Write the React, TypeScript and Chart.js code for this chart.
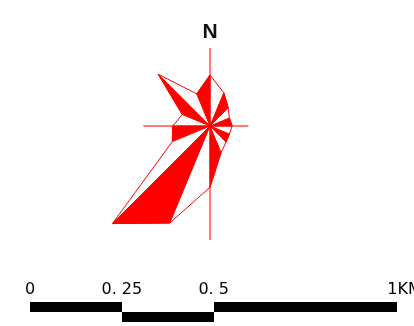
import React, { useEffect, useRef } from 'react';
import { Chart, registerables } from 'chart.js';

Chart.register(...registerables);

// 16 wind directions, clockwise from north
const directions = ['N', 'NNE', 'NE', 'ENE', 'E', 'ESE', 'SE', 'SSE', 'S', 'SSW', 'SW', 'WSW', 'W', 'WNW', 'NW', 'NNW'];
// wind frequency (%) per direction
const frequency = [8.5, 6.0, 4.3, 3.5, 3.7, 3.5, 3.8, 4.8, 10.2, 17.5, 23.0, 6.8, 6.2, 5.0, 12.2, 5.8];
// sectors (pairs of neighbouring directions) that are filled solid
const filledPairs = [[15, 0], [1, 2], [3, 4], [5, 6], [7, 8], [9, 10], [11, 12], [13, 14]];
// reach of the N / E / S / W cross lines
const crossLength = [13, 0, 0, 0, 6.4, 0, 0, 0, 19, 0, 0, 0, 11.1, 0, 0, 0];
const radialMax = 20;

// map scale bar
const scaleStops = [0, 0.25, 0.5, 1];
const scaleLabels = ['0', '0. 25', '0. 5', '1KM'];
const northLabel = 'N';

const RED = '#ff0000';

function WindRose() {
  const ref = useRef<HTMLCanvasElement | null>(null);
  useEffect(() => {
    if (!ref.current) return;
    const sectorSets = filledPairs.map((pair) => ({
      data: directions.map((_, i) => (pair.includes(i) ? frequency[i] : 0)),
      borderColor: RED,
      backgroundColor: RED,
      borderWidth: 1,
      fill: 'origin' as const,
      pointRadius: 0,
    }));
    const chart = new Chart(ref.current, {
      type: 'radar',
      data: {
        labels: directions,
        datasets: [
          {
            data: frequency,
            borderColor: RED,
            backgroundColor: 'rgba(0,0,0,0)',
            borderWidth: 1,
            fill: false,
            pointRadius: 0,
          },
          ...sectorSets,
          {
            data: crossLength,
            borderColor: 'rgba(255,40,40,0.75)',
            backgroundColor: 'rgba(0,0,0,0)',
            borderWidth: 1,
            fill: false,
            pointRadius: 0,
          },
        ],
      },
      options: {
        animation: false,
        responsive: false,
        events: [],
        layout: { padding: { left: 90, right: 84, top: 6, bottom: 80 } },
        elements: { line: { tension: 0 }, point: { radius: 0 } },
        plugins: { legend: { display: false }, tooltip: { enabled: false } },
        scales: {
          r: {
            min: 0,
            max: radialMax,
            startAngle: 0,
            ticks: { display: false },
            grid: { display: false },
            angleLines: { display: false },
            pointLabels: { display: false },
          },
        },
      },
    });
    return () => chart.destroy();
  }, []);
  return <canvas ref={ref} width={414} height={326} style={{ position: 'absolute', left: 0, top: 0, display: 'block' }} />;
}

export default function App() {
  const barLeft = 30;
  const barWidth = 367.3;
  const labelFont = '16px "DejaVu Sans", sans-serif';
  return (
    <div style={{ position: 'fixed', left: 0, top: 0, width: 414, height: 326, overflow: 'hidden', background: '#fff' }}>
      <WindRose />
      <div
        style={{
          position: 'absolute',
          left: 210,
          top: 20,
          transform: 'translateX(-50%)',
          font: 'bold 21px "Liberation Sans", Arial, sans-serif',
          lineHeight: '21px',
          color: '#111',
        }}
      >
        {northLabel}
      </div>
      {scaleStops.slice(0, -1).map((s, i) => {
        const x0 = barLeft + s * barWidth;
        const x1 = barLeft + scaleStops[i + 1] * barWidth;
        return (
          <div
            key={'bar' + i}
            style={{
              position: 'absolute',
              left: x0,
              width: x1 - x0,
              top: i % 2 === 0 ? 302 : 312,
              height: 10,
              background: '#000',
            }}
          />
        );
      })}
      {scaleLabels.map((t, i) => {
        const x = barLeft + scaleStops[i] * barWidth;
        const last = i === scaleLabels.length - 1;
        return (
          <div
            key={'lab' + i}
            style={{
              position: 'absolute',
              left: last ? x - 10 : x,
              top: 281,
              transform: last ? 'none' : 'translateX(-50%)',
              font: labelFont,
              lineHeight: '16px',
              color: '#000',
              whiteSpace: 'nowrap',
            }}
          >
            {t}
          </div>
        );
      })}
    </div>
  );
}
